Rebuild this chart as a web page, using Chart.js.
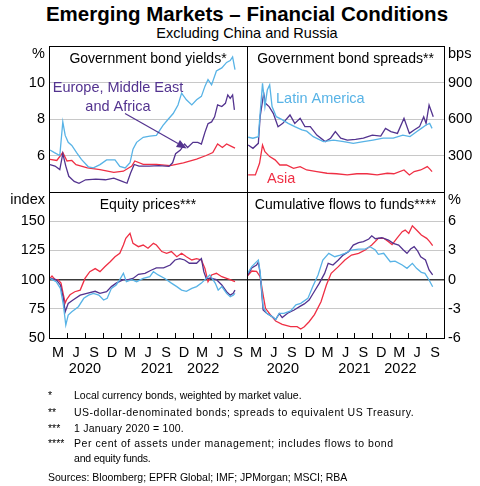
<!DOCTYPE html>
<html><head><meta charset="utf-8">
<script src="https://cdn.jsdelivr.net/npm/chart.js@4.4.1/dist/chart.umd.min.js"></script>
<style>
html,body{margin:0;padding:0;background:#fff;}
body{width:480px;height:486px;position:relative;overflow:hidden;font-family:"Liberation Sans",Arial,sans-serif;color:#000;}
canvas{position:absolute;left:0;top:0;}
.title{position:absolute;left:7px;width:480px;text-align:center;top:4px;font-size:20.5px;line-height:20px;font-weight:bold;}
.sub{position:absolute;left:7px;width:480px;text-align:center;top:26px;font-size:14.5px;line-height:14.5px;}
.fn{position:absolute;font-size:10.5px;line-height:12px;white-space:nowrap;}
</style></head><body>
<div class="title">Emerging Markets – Financial Conditions</div>
<div class="sub">Excluding China and Russia</div>
<canvas id="c1" width="480" height="486"></canvas>
<canvas id="c2" width="480" height="486"></canvas>
<canvas id="c3" width="480" height="486"></canvas>
<canvas id="c4" width="480" height="486"></canvas>
<div class="fn" style="left:48px;top:389px">*</div><div class="fn" style="left:74px;top:389px">Local currency bonds, weighted by market value.</div>
<div class="fn" style="left:48px;top:406px">**</div><div class="fn" style="left:74px;top:406px;letter-spacing:0.5px">US-dollar-denominated bonds; spreads to equivalent US Treasury.</div>
<div class="fn" style="left:48px;top:422px">***</div><div class="fn" style="left:74px;top:422px;letter-spacing:0.25px">1 January 2020 = 100.</div>
<div class="fn" style="left:48px;top:437px">****</div><div class="fn" style="left:74px;top:437px;letter-spacing:0.55px">Per cent of assets under management; includes flows to bond</div>
<div class="fn" style="left:74px;top:452px;letter-spacing:-0.2px">and equity funds.</div>
<div class="fn" style="left:48px;top:471px">Sources: Bloomberg; EPFR Global; IMF; JPMorgan; MSCI; RBA</div>
<script>
// ---- axis labels ----
const QUARTER_LABELS = ['M','J','S','D','M','J','S','D','M','J','S'];
const YEAR_LABELS = ['2020','2021','2022'];
const YEAR_AT = [6, 18, 25.7];   // months since 1 Jan 2020

// ---- data: time in months since 1 Jan 2020 ----
// Government bond yields (%)
const yldLatAmT = [0.17,0.9,1.8,2.3,2.7,3.2,3.8,4.6,5.4,6.55,7.4,8.5,9.6,11.0,11.8,12.7,13.5,14.0,14.6,15.7,16.8,17.9,19.0,19.9,20.7,21.5,22.1,22.9,23.8,24.6,25.4,26.0,26.5,27.1,27.9,28.8,29.6,30.2,30.6,31.0];
const yldLatAm  = [6.3,6.16,6.0,7.84,7.1,6.72,6.55,6.16,5.79,5.38,5.32,5.5,5.76,5.76,5.4,5.32,5.6,6.35,6.72,7.0,7.06,7.1,7.65,8.0,8.3,8.77,9.42,9.05,8.77,9.05,9.24,9.8,10.16,9.87,10.63,10.8,11.1,11.2,11.4,10.7];
const yldAsiaT = [0.17,1.3,2.3,3.0,3.8,4.5,6.4,8.5,10.8,12.4,13.8,14.3,15.7,17.9,20.2,22.4,24.6,26.2,27.3,28.1,28.9,29.6,30.4,31.0];
const yldAsia  = [5.79,5.73,6.16,5.7,5.73,5.5,5.32,5.23,5.08,5.14,5.42,5.7,5.51,5.51,5.45,5.6,5.8,6.0,6.16,6.63,6.44,6.63,6.5,6.4];
const yldEmeaT = [0.17,1.0,1.8,2.3,2.8,3.3,4.2,5.0,6.1,7.8,9.4,10.8,12.2,13.0,13.6,14.2,15.0,16.7,18.3,20.0,20.6,21.1,21.9,22.6,23.1,24.0,24.8,25.4,26.0,26.5,27.1,27.6,28.1,28.8,29.4,29.8,30.2,30.6,30.9];
const yldEmea  = [5.5,5.42,5.23,6.1,5.42,4.86,4.58,4.48,4.67,4.7,4.67,4.76,4.58,4.48,5.04,5.51,5.42,5.42,5.45,5.4,5.6,6.1,6.3,6.63,6.44,6.72,6.72,6.63,7.28,7.74,7.84,8.12,8.77,8.68,8.86,9.32,9.13,9.32,8.5];

// Government bond spreads (bps)
const sprLatAmT = [0.2,1.0,1.9,2.2,2.6,3.0,3.4,3.8,4.2,4.9,5.8,6.9,8.0,9.2,10.0,11.1,12.8,14.5,16.2,17.8,19.5,21.1,22.8,24.5,26.1,27.3,28.4,29.2,30.0,30.6,31.0];
const sprLatAm  = [450,442,455,647,893,702,838,880,702,619,597,564,537,510,500,455,414,427,414,400,414,427,442,442,468,455,496,523,551,564,523];
const sprEmeaT = [0.2,1.0,1.9,2.2,2.8,3.1,3.7,4.4,5.2,6.0,7.2,8.0,8.9,9.7,10.6,11.7,13.1,14.0,14.8,15.7,16.8,18.2,19.5,21.0,22.4,23.2,24.1,25.2,26.3,27.2,28.0,28.9,29.6,30.0,30.5,30.9,31.2];
const sprEmea  = [386,359,400,619,811,729,702,647,537,564,633,564,606,537,537,468,414,442,496,442,427,432,442,468,460,523,496,482,606,482,510,537,619,564,715,660,619];
const sprAsiaT = [0.2,1.4,2.1,2.6,3.0,3.8,4.7,5.5,6.6,7.8,8.9,10.0,11.7,13.4,15.0,16.8,18.4,20.1,21.8,23.5,24.6,26.3,27.2,28.0,29.1,30.2,30.6,31.0];
const sprAsia  = [140,140,236,386,332,291,264,222,222,195,209,181,168,154,150,140,150,150,140,154,150,181,140,168,181,209,190,168];

// Equity prices (index, 1 Jan 2020 = 100)
const eqAsiaT = [0.17,0.5,1.1,1.5,2.0,2.4,2.7,2.95,3.5,4.3,5.2,6.0,6.8,7.7,8.5,9.3,10.2,11.0,11.8,12.4,12.8,13.5,14.0,14.9,15.7,16.5,17.4,17.9,18.8,19.6,20.4,21.3,22.1,22.9,23.8,24.6,25.4,26.0,26.5,27.1,27.9,28.8,29.6,30.4,31.0];
const eqAsia  = [101,103,99.6,100,97,87,80,83,87,89.6,91,101,106.8,109.4,106.8,111,115.3,119.6,122.5,129.6,135.3,139.6,131,128.2,129.6,126.8,131,129.6,124,122.5,124,119.6,122.5,119.6,116.8,118,116.8,109.4,98.2,104,105.4,102.5,101,99.6,98.2];
const eqEmeaT = [0.17,1.2,1.9,2.4,2.7,3.2,4.0,5.2,6.3,7.7,8.5,9.6,10.4,11.2,12.4,13.2,14.0,14.9,16.0,17.1,17.9,19.1,20.2,21.0,21.8,22.6,23.4,24.6,25.4,25.8,26.2,27.1,27.9,28.8,29.6,30.2,30.7,31.0];
const eqEmea  = [101,100,95.4,84,72.5,79.6,82.5,86.7,88.2,90,88.2,89.6,94,97,100,100,101,104.5,105.4,108.2,110,110,112.5,116.8,118,116.8,114,114,118,106.8,101,101,100,95.4,89.6,86.7,88.2,91];
const eqLatAmT = [0.17,1.2,1.9,2.4,2.8,3.2,3.8,4.9,5.8,6.6,7.4,8.3,9.1,9.7,10.4,11.2,11.8,12.4,12.9,13.8,14.6,15.7,16.8,17.4,18.2,19.3,20.4,21.3,22.1,22.9,23.8,24.6,25.4,26.0,26.8,27.7,28.2,28.8,29.6,30.2,30.7,31.0];
const eqLatAm  = [101,98.2,92.5,78.2,61.1,69.6,72.5,76.8,84,86.7,88.2,86.7,82.5,84,92.5,95.4,100,105.4,98.2,100,98.2,101,102.5,106.8,104,101,97,94,91,90,92.5,94,97,100,104,97,91,94,88.2,85.3,86.7,88.2];

// Cumulative flows to funds (% of AUM)
const flAsiaT = [0.1,0.8,1.6,2.2,2.7,3.1,3.9,4.8,5.9,7.3,8.4,9.0,9.6,10.4,11.3,12.4,13.3,14.1,15.3,16.4,17.5,18.7,19.8,20.9,22.0,22.9,23.7,24.3,25.1,26.0,26.5,27.1,27.7,28.4,29.2,30.1,30.6,31.1];
const flAsia  = [0.4,0.88,0.85,0.3,-1.58,-2.95,-3.6,-4.26,-4.6,-4.84,-4.84,-5.07,-4.84,-4.33,-3.6,-2.27,-0.56,0.64,1.33,2.01,2.52,2.7,3.04,3.55,4.24,4.24,3.9,3.6,4.24,4.92,5.09,4.75,5.53,5.09,4.58,4.24,3.9,3.48];
const flEmeaT = [0.1,0.8,1.6,1.9,2.2,2.7,3.3,4.2,4.8,5.4,5.9,6.8,7.9,8.8,9.6,10.4,11.3,12.1,13.0,13.6,14.4,15.3,16.1,17.0,17.8,18.7,19.5,20.4,20.9,21.5,22.6,23.7,24.5,25.4,26.2,26.8,27.4,28.0,28.6,29.1,29.9,30.5,31.1];
const flEmea  = [0.45,1.2,1.5,1.8,0.64,-3.12,-3.46,-3.8,-4.1,-3.5,-3.9,-3.46,-3.12,-2.78,-2.5,-2.1,-1.2,-0.39,0.64,1.67,1.5,2.01,2.52,2.86,3.55,3.8,3.9,4.17,4.5,4.2,4.3,4.06,3.72,3.55,3.04,2.7,3.14,3.38,2.93,2.35,2.01,0.99,0.48];
const flLatAmT = [0.1,0.8,1.5,1.9,2.2,2.7,3.3,4.2,4.8,5.4,6.2,7.3,8.2,9.0,10.2,11.0,11.9,12.7,13.7,14.7,15.6,16.4,17.5,18.7,19.8,20.6,21.5,22.0,22.9,24.0,24.8,26.0,26.8,27.7,28.4,29.2,29.8,30.5,31.1];
const flLatAm  = [0.64,1.33,1.77,2.01,0.8,-2.78,-3.46,-3.8,-4.1,-3.46,-3.46,-3.22,-2.6,-2.44,-1.93,-0.73,0.47,2.01,2.7,2.35,2.52,2.7,3.04,3.14,3.14,3.38,3.04,2.6,2.7,1.84,1.9,1.5,1.16,1.67,1.16,0.75,0.64,-0.04,-0.73];

const C_LATAM = '#58b3e6', C_EMEA = '#53338f', C_ASIA = '#ef2f44';
const FONT = '"Liberation Sans", Arial, sans-serif';
Chart.defaults.font.family = FONT;
Chart.defaults.color = '#000';

function series(ts, vs, color) {
  return { data: ts.map((t, i) => ({ x: t, y: vs[i] })), borderColor: color, borderWidth: 1.3,
           pointRadius: 0, fill: false, tension: 0 };
}

function deco(p) {
  return {
    id: 'deco',
    afterDatasetsDraw(chart) {
      const { ctx, chartArea: a, scales } = chart;
      const xs = scales.x, ys = scales.y;
      ctx.save();
      ctx.strokeStyle = '#000'; ctx.lineWidth = 1;
      ctx.strokeRect(Math.round(a.left) + 0.5, Math.round(a.top) + 0.5,
                     Math.round(a.right - a.left), Math.round(a.bottom - a.top));
      if (p.showX) {
        ctx.beginPath();
        for (let k = 1; k < QUARTER_LABELS.length; k++) {
          const px = Math.round(xs.getPixelForValue(k * 3)) + 0.5;
          ctx.moveTo(px, a.bottom); ctx.lineTo(px, a.bottom - 5);
        }
        ctx.stroke();
      }
      ctx.fillStyle = '#000';
      ctx.textBaseline = 'middle';
      ctx.font = '14px ' + FONT;
      ctx.textAlign = 'center';
      ctx.fillText(p.title, (a.left + a.right) / 2, a.top + 13);
      ctx.font = '14.5px ' + FONT;
      ctx.textAlign = p.yPos === 'left' ? 'right' : 'left';
      ctx.fillText(p.unit, p.yPos === 'left' ? a.left - 4 : a.right + 4, a.top + 8);
      (p.notes || []).forEach(n => {
        ctx.fillStyle = n.color; ctx.textAlign = n.align || 'center';
        ctx.fillText(n.text, xs.getPixelForValue(n.at[0]), ys.getPixelForValue(n.at[1]));
      });
      (p.arrows || []).forEach(ar => {
        const x0 = xs.getPixelForValue(ar.from[0]), y0 = ys.getPixelForValue(ar.from[1]);
        const x1 = xs.getPixelForValue(ar.to[0]), y1 = ys.getPixelForValue(ar.to[1]);
        const ang = Math.atan2(y1 - y0, x1 - x0), L = 10, W = 4;
        const bx = x1 - L * Math.cos(ang), by = y1 - L * Math.sin(ang);
        ctx.strokeStyle = ar.color; ctx.fillStyle = ar.color; ctx.lineWidth = 1.2;
        ctx.beginPath(); ctx.moveTo(x0, y0); ctx.lineTo(bx, by); ctx.stroke();
        ctx.beginPath(); ctx.moveTo(x1, y1);
        ctx.lineTo(bx + W * Math.sin(ang), by - W * Math.cos(ang));
        ctx.lineTo(bx - W * Math.sin(ang), by + W * Math.cos(ang));
        ctx.closePath(); ctx.fill();
      });
      ctx.restore();
    }
  };
}

function panel(id, p) {
  const scales = {
    x: {
      type: 'linear', min: 0, max: 33, display: p.showX, position: 'bottom', weight: 0,
      afterBuildTicks: s => { s.ticks = QUARTER_LABELS.map((_, i) => ({ value: i * 3 + 1.5 })); },
      afterFit: s => { s.height = p.showX ? 22 : 0; },
      ticks: { autoSkip: false, maxRotation: 0, minRotation: 0, padding: 6, font: { size: 14.5 }, color: '#000',
               callback: (v, i) => QUARTER_LABELS[i] },
      grid: { display: false, drawTicks: false }, border: { display: false }
    },
    y: {
      type: 'linear', position: p.yPos, min: p.min, max: p.max,
      afterFit: s => { s.width = p.yPos === 'left' ? 49 : 36; },
      ticks: { stepSize: p.step, padding: 4, font: { size: 14.5 }, color: '#000', autoSkip: false,
               callback: v => (v === p.max || (p.hideMin && v === p.min)) ? '' : String(v) },
      grid: {
        drawTicks: false,
        color: c => c.tick.value === p.zero ? '#3a3a3a'
                 : (c.tick.value === p.min || c.tick.value === p.max) ? 'rgba(0,0,0,0)' : '#c8c8c8',
        lineWidth: c => c.tick.value === p.zero ? 1.4 : 1
      },
      border: { display: false }
    }
  };
  if (p.showX) {
    scales.x2 = {
      type: 'linear', min: 0, max: 33, display: true, position: 'bottom', weight: 1,
      afterBuildTicks: s => { s.ticks = YEAR_AT.map(v => ({ value: v })); },
      afterFit: s => { s.height = 18; },
      ticks: { autoSkip: false, maxRotation: 0, minRotation: 0, padding: 0, font: { size: 14.5 }, color: '#000',
               callback: (v, i) => YEAR_LABELS[i] },
      grid: { display: false, drawTicks: false }, border: { display: false }
    };
  }
  return new Chart(document.getElementById(id), {
    type: 'line',
    data: { datasets: p.datasets },
    options: {
      responsive: false, animation: false, devicePixelRatio: 1,
      layout: { padding: p.pad },
      plugins: { legend: { display: false }, tooltip: { enabled: false } },
      scales
    },
    plugins: [deco(p)]
  });
}

panel('c1', {
  pad: { left: 0, top: 46, right: 233, bottom: 294 }, yPos: 'left', min: 4, max: 12, step: 2, hideMin: true,
  showX: false, unit: '%', title: 'Government bond yields*',
  datasets: [series(yldLatAmT, yldLatAm, C_LATAM), series(yldEmeaT, yldEmea, C_EMEA), series(yldAsiaT, yldAsia, C_ASIA)],
  notes: [{ text: 'Europe, Middle East', at: [11.5, 9.68], color: C_EMEA },
          { text: 'and Africa', at: [11.5, 8.68], color: C_EMEA }],
  arrows: [{ from: [12.67, 8.3], to: [22.95, 6.39], color: C_EMEA }]
});
panel('c2', {
  pad: { left: 247, top: 46, right: 0, bottom: 294 }, yPos: 'right', min: 0, max: 1200, step: 300, hideMin: true,
  showX: false, unit: 'bps', title: 'Government bond spreads**',
  datasets: [series(sprLatAmT, sprLatAm, C_LATAM), series(sprEmeaT, sprEmea, C_EMEA), series(sprAsiaT, sprAsia, C_ASIA)],
  notes: [{ text: 'Latin America', at: [4.86, 765], color: C_LATAM, align: 'left' },
          { text: 'Asia', at: [3.35, 107], color: C_ASIA, align: 'left' }]
});
panel('c3', {
  pad: { left: 0, top: 192, right: 233, bottom: 108 }, yPos: 'left', min: 50, max: 175, step: 25, hideMin: false, zero: 100,
  showX: true, unit: 'index', title: 'Equity prices***',
  datasets: [series(eqLatAmT, eqLatAm, C_LATAM), series(eqEmeaT, eqEmea, C_EMEA), series(eqAsiaT, eqAsia, C_ASIA)]
});
panel('c4', {
  pad: { left: 247, top: 192, right: 0, bottom: 108 }, yPos: 'right', min: -6, max: 9, step: 3, hideMin: false, zero: 0,
  showX: true, unit: '%', title: 'Cumulative flows to funds****',
  datasets: [series(flLatAmT, flLatAm, C_LATAM), series(flEmeaT, flEmea, C_EMEA), series(flAsiaT, flAsia, C_ASIA)]
});
</script>
</body></html>
